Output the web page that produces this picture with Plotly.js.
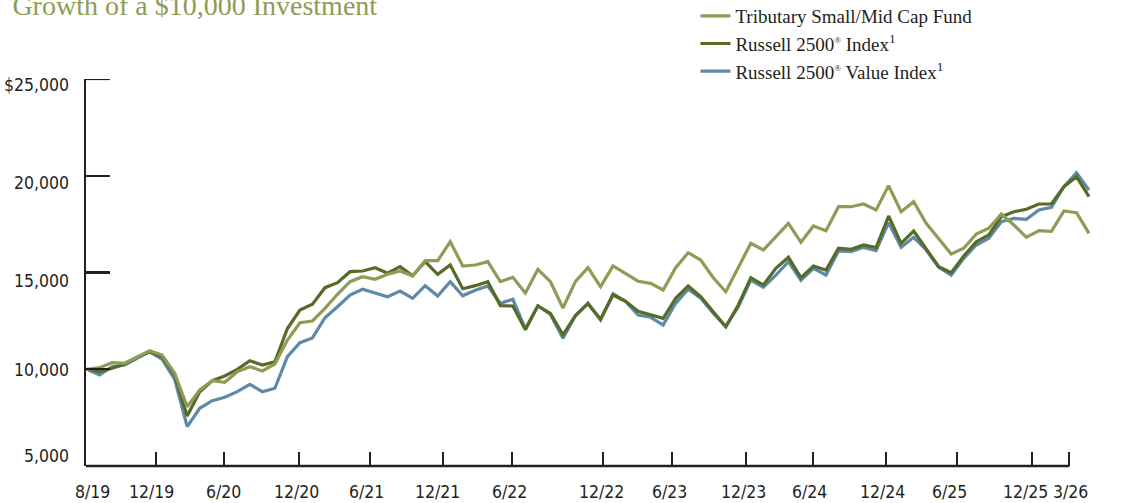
<!DOCTYPE html>
<html>
<head>
<meta charset="utf-8">
<script src="https://cdn.plot.ly/plotly-3.0.1.min.js"></script>
<style>html,body{margin:0;padding:0;background:#fff;}#chart{width:1125px;height:503px;}</style>
</head>
<body>
<div id="chart"></div>
<script>
// Monthly observations, 7/19 (start, $10,000) through 3/26
const months = [
  "7/19","8/19","9/19","10/19","11/19","12/19",
  "1/20","2/20","3/20","4/20","5/20","6/20","7/20","8/20","9/20","10/20","11/20","12/20",
  "1/21","2/21","3/21","4/21","5/21","6/21","7/21","8/21","9/21","10/21","11/21","12/21",
  "1/22","2/22","3/22","4/22","5/22","6/22","7/22","8/22","9/22","10/22","11/22","12/22",
  "1/23","2/23","3/23","4/23","5/23","6/23","7/23","8/23","9/23","10/23","11/23","12/23",
  "1/24","2/24","3/24","4/24","5/24","6/24","7/24","8/24","9/24","10/24","11/24","12/24",
  "1/25","2/25","3/25","4/25","5/25","6/25","7/25","8/25","9/25","10/25","11/25","12/25",
  "1/26","2/26","3/26"
];

const fundValues = [
  10000,10080,10339,10308,10618,10959,10737,9791,8065,8928,9408,9326,9873,10132,9910,10271,11512,
  12406,12494,13150,13874,14525,14783,14649,14907,15078,14819,15610,15610,16592,15336,15388,15558,
  14525,14752,13940,15165,14525,13165,14540,15248,14266,15336,14922,14550,14442,14096,15248,16023,
  15646,14731,14008,15217,16509,16163,16851,17543,16560,17403,17161,18401,18401,18540,18230,19490,
  18143,18660,17543,16768,15956,16251,16990,17285,18023,17455,16819,17161,17129,18178,18090,17026
];

const r2500Values = [
  10000,9873,10050,10256,10618,10907,10649,9703,7584,8840,9408,9651,9997,10442,10220,10390,12106,
  13062,13357,14215,14473,15042,15078,15248,14959,15300,14835,15558,14907,15388,14160,14320,14525,
  13290,13269,12045,13275,12892,11780,12780,13390,12582,13837,13510,13000,12804,12633,13667,14302,
  13750,12974,12199,13320,14731,14354,15217,15786,14731,15336,15129,16251,16199,16421,16283,17920,
  16509,17145,16251,15300,14990,15853,16592,16938,17884,18143,18266,18540,18540,19436,19953,18917
];

const r2500ValueValues = [
  10000,9703,10132,10220,10566,10907,10514,9481,7031,7982,8375,8550,8840,9222,8840,9016,10649,
  11372,11620,12664,13233,13837,14132,13956,13750,14044,13667,14318,13786,14525,13800,14080,14302,
  13408,13615,12090,13280,12830,11600,12760,13408,12545,13900,13510,12804,12685,12287,13408,14132,
  13667,12892,12199,13233,14612,14235,14870,15558,14600,15217,14870,16111,16077,16300,16127,17575,
  16300,16819,16163,15269,14870,15734,16421,16768,17625,17798,17747,18230,18370,19436,20158,19264
];

const REG = '<sup><span style="font-size:9px">®</span></sup>';
const seriesNames = [
  "Tributary Small/Mid Cap Fund",
  "Russell 2500" + REG + " Index<sup>1</sup>",
  "Russell 2500" + REG + " Value Index<sup>1</sup>"
];

// x-axis: tick marks and label centres, in month-index units
const xTickLabels = ["8/19","12/19","6/20","12/20","6/21","12/21","6/22","12/22","6/23","12/23","6/24","12/24","6/25","12/25","3/26"];
const xTickMarks  = [0, 5.49, 10.94, 16.95, 22.59, 28.40, 33.91, 41.22, 46.68, 52.61, 57.99, 63.79, 69.44, 75.43, 78.43];
const xLabelAt    = [0.40, 5.17, 10.88, 16.69, 22.33, 28.02, 33.77, 41.09, 46.53, 52.38, 57.72, 63.55, 68.90, 74.89, 78.54];

// y-axis: tick marks and label centres, in dollars
const yTickVals   = [5000, 10000, 15000, 20000, 25000];
const yTickLabels = ["5,000", "10,000", "15,000", "20,000", "$25,000"];
const yLabelAt    = [5517, 9961, 14571, 19625, 24690];

const xIdx = months.map((_, i) => i);

const C_FUND = "#8e9c55";
const C_R2500 = "#566b28";
const C_VALUE = "#5f89a7";
const AXIS = "#231f20";
const SANS = "'Liberation Sans Narrow', 'DejaVu Sans Condensed', 'Open Sans', sans-serif";
const SERIF = "'Liberation Serif', 'DejaVu Serif', serif";
const XR = [-0.08, 80.08];
const YR = [5000, 25000];

const traces = [
  {x: xIdx, y: r2500ValueValues, name: seriesNames[2], legendrank: 3, type: "scatter", mode: "lines",
   line: {color: C_VALUE, width: 3.2}},
  {x: xIdx, y: r2500Values, name: seriesNames[1], legendrank: 2, type: "scatter", mode: "lines",
   line: {color: C_R2500, width: 3.2}},
  {x: xIdx, y: fundValues, name: seriesNames[0], legendrank: 1, type: "scatter", mode: "lines",
   line: {color: C_FUND, width: 3.2}}
];

const annotations = [];
xTickLabels.forEach((t, i) => annotations.push({
  text: t, xref: "x", yref: "paper", x: xLabelAt[i], y: 0, xanchor: "center", yanchor: "middle",
  yshift: -26, showarrow: false, font: {family: SANS, size: 17.5, color: AXIS}
}));
yTickLabels.forEach((t, i) => annotations.push({
  text: t, xref: "paper", yref: "y", x: 0, y: yLabelAt[i], xanchor: "right", yanchor: "middle",
  xshift: -15, showarrow: false, font: {family: SANS, size: 17.5, color: AXIS}
}));

const layout = {
  width: 1125, height: 503,
  margin: {l: 86, r: 35, t: 79, b: 37, pad: 0, autoexpand: false},
  paper_bgcolor: "#fff", plot_bgcolor: "#fff",
  showlegend: true,
  title: {
    text: "Growth of a $10,000 Investment",
    font: {family: SERIF, size: 28, color: C_FUND},
    xref: "container", yref: "container", x: 0.011, xanchor: "left", y: 0.99, yanchor: "middle"
  },
  legend: {
    xref: "paper", yref: "paper",
    x: 0.607, xanchor: "left", y: 1.212, yanchor: "top",
    font: {family: SERIF, size: 19, color: "#231f20"},
    bgcolor: "rgba(0,0,0,0)", borderwidth: 0, tracegroupgap: 0
  },
  xaxis: {
    range: XR, showgrid: false, zeroline: false, showline: false,
    tickmode: "array", tickvals: xTickMarks, showticklabels: false,
    ticks: "inside", ticklen: 14, tickwidth: 2.2, tickcolor: AXIS, fixedrange: true
  },
  yaxis: {
    range: YR, showgrid: false, zeroline: false,
    showline: true, linecolor: AXIS, linewidth: 2.5,
    tickmode: "array", tickvals: yTickVals, showticklabels: false,
    ticks: "inside", ticklen: 24, tickwidth: 2.2, tickcolor: AXIS, fixedrange: true
  },
  annotations: annotations,
  shapes: [
    {type: "line", xref: "x", yref: "paper", x0: XR[0], x1: xTickMarks[xTickMarks.length - 1],
     y0: 0, y1: 0, line: {color: AXIS, width: 2.5}, layer: "above"},
    {type: "line", xref: "paper", yref: "y", x0: 0, x1: 24 / 1004,
     y0: YR[1], y1: YR[1], line: {color: AXIS, width: 2.2}, layer: "above"}
  ]
};

Plotly.newPlot("chart", traces, layout, {displayModeBar: false, staticPlot: true});
</script>
</body>
</html>
